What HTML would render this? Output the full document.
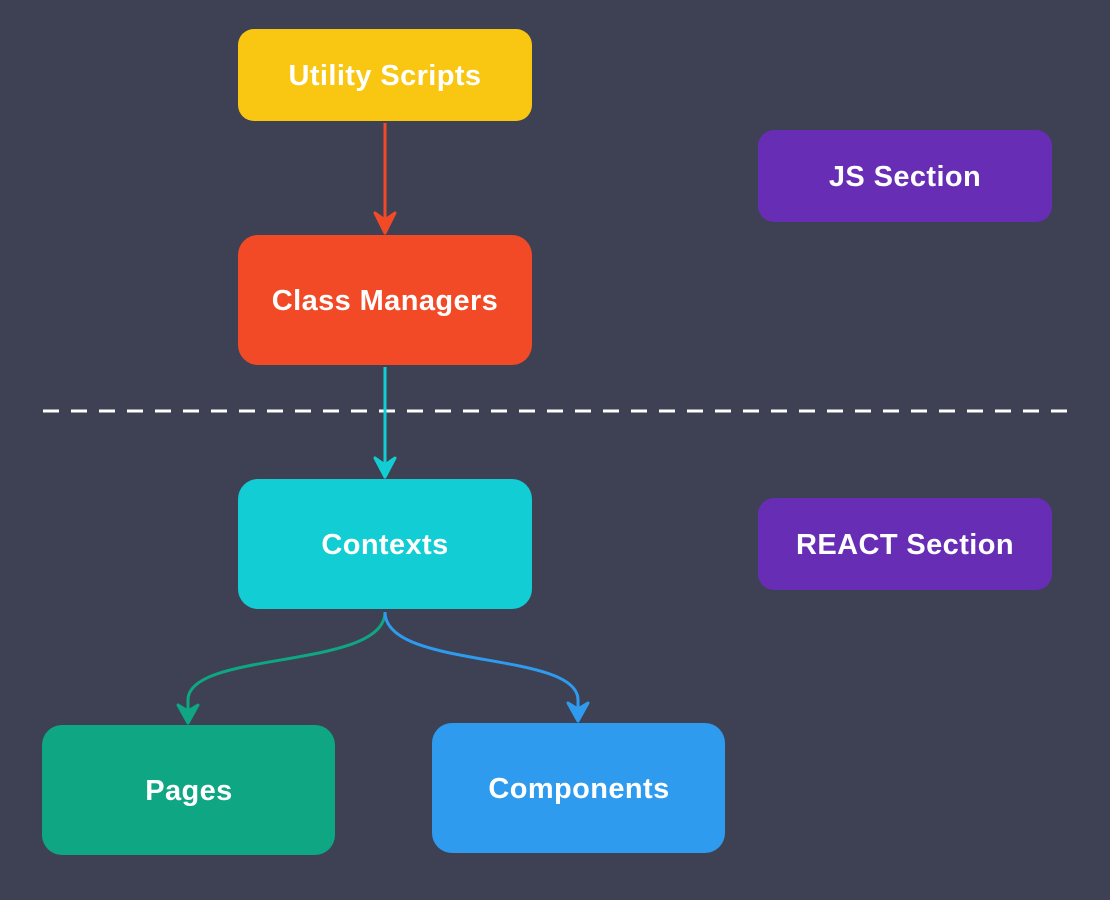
<!DOCTYPE html>
<html><head><style>
html,body{margin:0;padding:0;background:#3d4153;}
svg{display:block}
text{font-family:"Liberation Sans",sans-serif;font-weight:bold;font-size:29px;letter-spacing:0.4px;fill:#fff;text-anchor:middle;dominant-baseline:central}
</style></head><body>
<svg width="1110" height="900" viewBox="0 0 1110 900">
<rect x="0" y="0" width="1110" height="900" fill="#3d4153"/>
<line x1="43" y1="411" x2="1072" y2="411" stroke="#fff" stroke-width="3" stroke-dasharray="16 12"/>
<line x1="385" y1="123" x2="385" y2="228" stroke="#f24a26" stroke-width="3"/>
<path d="M375 213 L385 233 L395 213 L385 220 Z" fill="#f24a26" stroke="#f24a26" stroke-width="3" stroke-linejoin="round"/>
<line x1="385" y1="367" x2="385" y2="472" stroke="#12ced4" stroke-width="3"/>
<path d="M375 458 L385 477 L395 458 L385 465 Z" fill="#12ced4" stroke="#12ced4" stroke-width="3" stroke-linejoin="round"/>
<path d="M385 612 C385 670 188 650 188 700 L188 718" fill="none" stroke="#0ea683" stroke-width="3"/>
<path d="M178 705 L188 723 L198 705 L188 711 Z" fill="#0ea683" stroke="#0ea683" stroke-width="3" stroke-linejoin="round"/>
<path d="M385 612 C385 670 578 650 578 700 L578 716" fill="none" stroke="#2e9bef" stroke-width="3"/>
<path d="M568 703 L578 721 L588 703 L578 709 Z" fill="#2e9bef" stroke="#2e9bef" stroke-width="3" stroke-linejoin="round"/>
<rect x="238" y="29" width="294" height="92" rx="16" fill="#f9c712"/>
<text x="385" y="76">Utility Scripts</text>
<rect x="238" y="235" width="294" height="130" rx="20" fill="#f24a26"/>
<text x="385" y="301">Class Managers</text>
<rect x="238" y="479" width="294" height="130" rx="20" fill="#12ced4"/>
<text x="385" y="545">Contexts</text>
<rect x="42" y="725" width="293" height="130" rx="20" fill="#0ea683"/>
<text x="189" y="791">Pages</text>
<rect x="432" y="723" width="293" height="130" rx="20" fill="#2e9bef"/>
<text x="579" y="789">Components</text>
<rect x="758" y="130" width="294" height="92" rx="16" fill="#672db5"/>
<text x="905" y="177">JS Section</text>
<rect x="758" y="498" width="294" height="92" rx="16" fill="#672db5"/>
<text x="905" y="545">REACT Section</text>
</svg>
</body></html>
